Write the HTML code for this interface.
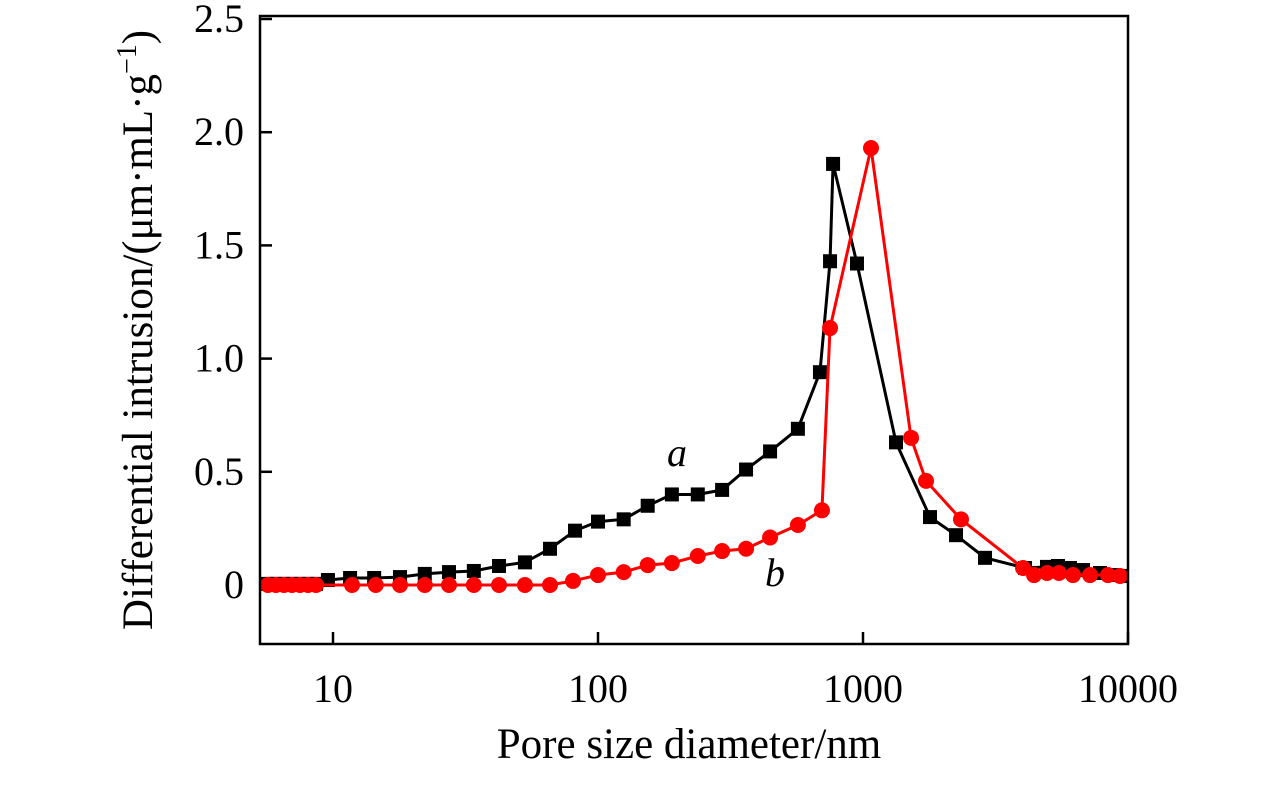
<!DOCTYPE html>
<html><head><meta charset="utf-8"><style>
body{margin:0;background:#fff;}
svg{display:block;font-family:"Liberation Serif",serif;}
</style></head><body>
<svg id="chart" width="1276" height="787" viewBox="0 0 1276 787">
<defs><clipPath id="clip"><rect x="260" y="16" width="868" height="628"/></clipPath></defs>
<g id="axes"></g>
<g id="series" clip-path="url(#clip)"></g>
<rect x="260" y="16" width="868" height="628" fill="none" stroke="#000" stroke-width="2.5"/>
<text x="689" y="758" font-size="43" text-anchor="middle">Pore size diameter/nm</text>
<text transform="translate(152,330) rotate(-90)" font-size="43" text-anchor="middle">Differential intrusion/(μm·mL·g<tspan dy="-16" font-size="28">−1</tspan><tspan dy="16">)</tspan></text>
<text x="667" y="466" font-size="40" font-style="italic">a</text>
<text x="765" y="586" font-size="40" font-style="italic">b</text>
</svg>
<script>
const xTicks=[10,100,1000,10000];
const yTicks=[0,0.5,1.0,1.5,2.0,2.5];
const yTickLabels=["0","0.5","1.0","1.5","2.0","2.5"];
const aX=[5.68,6.09,6.53,7.00,7.51,8.05,8.63,9.57,11.6,14.3,17.9,22.2,27.4,34.0,42.3,53.0,65.9,81.9,100,125,154,190,238,294,362,446,568,688,751,771,949,1332,1790,2244,2887,4087,4947,5443,6040,6765,7842,8779,9575];
const aY=[0.005,0.005,0.005,0.005,0.005,0.005,0.005,0.022,0.031,0.031,0.035,0.049,0.057,0.062,0.084,0.10,0.16,0.24,0.28,0.29,0.35,0.40,0.40,0.42,0.51,0.59,0.69,0.94,1.43,1.86,1.42,0.63,0.30,0.22,0.12,0.075,0.08,0.084,0.075,0.066,0.053,0.044,0.04];
const bX=[5.68,6.09,6.53,7.00,7.51,8.05,8.63,11.8,14.5,17.9,22.2,27.4,34.0,42.3,53.0,65.9,80.5,100,125,154,190,238,294,362,446,568,700,751,1072,1518,1729,2343,4017,4419,4947,5490,6200,7189,8404,9328];
const bY=[0,0,0,0,0,0,0,0,0,0,0,0,0,0,0,0,0.018,0.044,0.057,0.088,0.097,0.128,0.15,0.16,0.21,0.265,0.33,1.135,1.93,0.65,0.46,0.29,0.075,0.044,0.053,0.053,0.044,0.044,0.044,0.04];
const NS="http://www.w3.org/2000/svg";
const xs=v=>333+265*(Math.log10(v)-1);
const ys=v=>585-226.4*v;
function mk(tag,attrs,parent){const e=document.createElementNS(NS,tag);for(const k in attrs)e.setAttribute(k,attrs[k]);parent.appendChild(e);return e;}
const axes=document.getElementById('axes');
xTicks.forEach(t=>{
  const l=mk('line',{x1:xs(t),x2:xs(t),y1:644,y2:632,stroke:'#000','stroke-width':2.5},axes);
  
  
  const tx=mk('text',{x:xs(t),y:702,'font-size':40,'text-anchor':'middle'},axes);
  tx.textContent=String(t);
  
  
});
yTicks.forEach((t,i)=>{
  const l=mk('line',{x1:260,x2:272,y1:ys(t),y2:ys(t),stroke:'#000','stroke-width':2.5},axes);
  
  
  const tx=mk('text',{x:244,y:ys(t)+13,'font-size':40,'text-anchor':'end'},axes);
  tx.textContent=yTickLabels[i];
  
  
});
const g=document.getElementById('series');
function draw(X,Y,color,shape,name){
  const pl=mk('polyline',{points:X.map((x,i)=>xs(x)+','+ys(Y[i])).join(' '),fill:'none',stroke:color,'stroke-width':3},g);
  
  
  X.forEach((x,i)=>{
    let m;
    if(shape==='sq') m=mk('rect',{x:xs(x)-7,y:ys(Y[i])-7,width:14,height:14,fill:color},g);
    else m=mk('circle',{cx:xs(x),cy:ys(Y[i]),r:8,fill:color},g);
    
    
  });
}
draw(aX,aY,'#000','sq','series-a');
draw(bX,bY,'#f00','ci','series-b');
</script>
</body></html>
